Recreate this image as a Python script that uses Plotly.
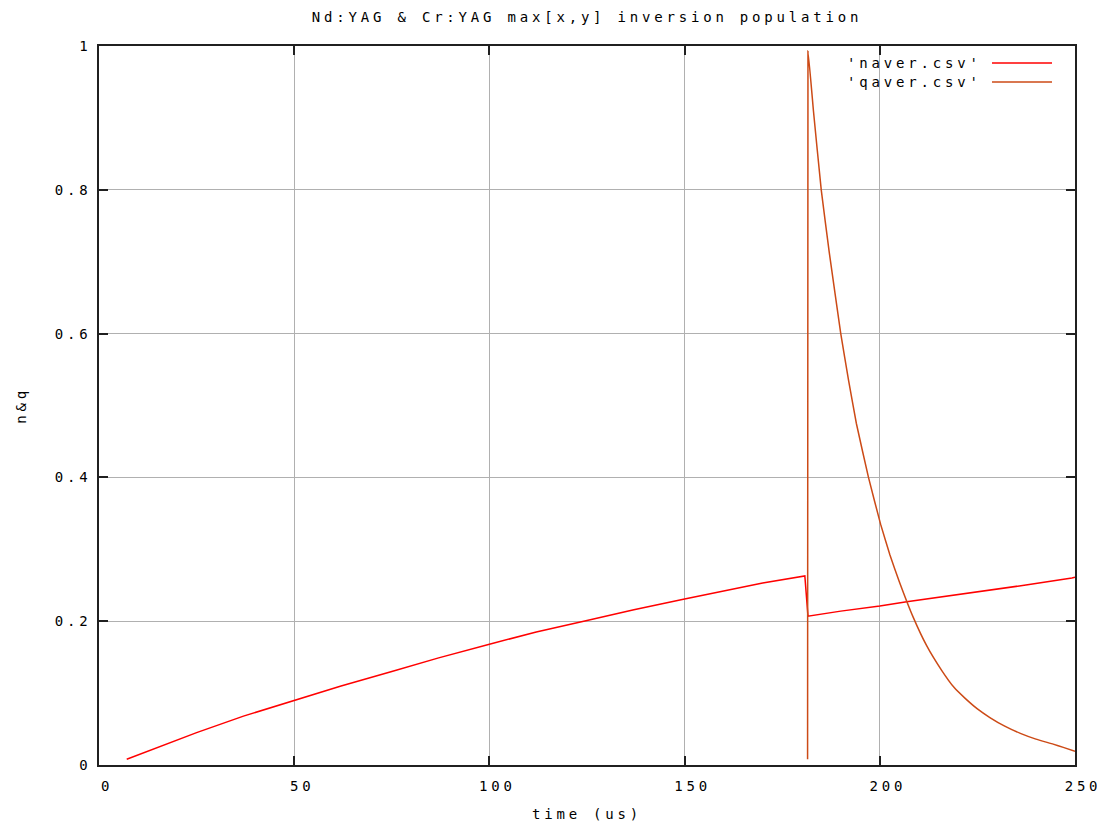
import plotly.graph_objects as go

# naver.csv (red)
naver_t = [7.1, 15, 25, 37, 50, 62, 75, 87, 100, 112, 125, 137, 150, 162, 170, 180.8,
           181.6, 190, 200, 206.9, 215, 225, 237, 249.2, 250]
naver_v = [0.008, 0.024, 0.045, 0.068, 0.090, 0.110, 0.130, 0.149, 0.168, 0.185, 0.201,
           0.216, 0.231, 0.244, 0.253, 0.263,
           0.207, 0.214, 0.221, 0.227, 0.233, 0.241, 0.250, 0.260, 0.261]

# qaver.csv (orange)
qaver_t = [181.5, 181.6, 183, 185, 187, 190, 192, 194, 197.1, 200.2, 202.6, 205, 208.6,
           212, 215.8, 219, 221.8, 225, 228.2, 232, 236, 240, 244.4, 247, 250]
qaver_v = [0.008, 0.993, 0.91, 0.80, 0.715, 0.60, 0.535, 0.475, 0.40, 0.335, 0.292, 0.255,
           0.205, 0.166, 0.132, 0.108, 0.093, 0.078, 0.066, 0.054, 0.044, 0.036, 0.029,
           0.0245, 0.019]

x_ticks = [0, 50, 100, 150, 200, 250]
y_ticks = [0, 0.2, 0.4, 0.6, 0.8, 1]
y_tick_text = ["0", "0.2", "0.4", "0.6", "0.8", "1"]

RED = "#ff0000"
ORANGE = "#cc4a16"
FONT = "DejaVu Sans Mono"
FS = 14
LS = 3.8  # letter spacing (px) to mimic gnuplot's wide pixel font

fig = go.Figure()
fig.add_trace(go.Scatter(x=naver_t, y=naver_v, mode="lines", name="'naver.csv'",
                         line=dict(color=RED, width=1.5)))
fig.add_trace(go.Scatter(x=qaver_t, y=qaver_v, mode="lines", name="'qaver.csv'",
                         line=dict(color=ORANGE, width=1.5, shape="spline", smoothing=0.3)))

axis_common = dict(
    showline=True, linecolor="#202020", linewidth=1.6, mirror="ticks",
    ticks="inside", ticklen=9, tickcolor="#202020", tickwidth=1.6,
    showgrid=True, gridcolor="#b0b0b0", gridwidth=1.2, zeroline=False,
    tickfont=dict(family=FONT, size=FS, color="#000000"),
)

fig.update_layout(
    width=1105, height=825,
    margin=dict(l=91, r=38, t=38, b=68),
    paper_bgcolor="white", plot_bgcolor="white",
    showlegend=False,
    title=dict(text="Nd:YAG & Cr:YAG max[x,y] inversion population",
               x=579 / 1105, xanchor="center", y=1 - 9 / 825, yanchor="middle",
               font=dict(family=FONT, size=FS, color="#000000")),
    xaxis=dict(range=[0, 250], tickvals=x_ticks, ticklabelstandoff=7, ticklabelshift=8,
               title=dict(text="time (us)", standoff=17,
                          font=dict(family=FONT, size=FS, color="#000000")),
               **axis_common),
    yaxis=dict(range=[0, 1], tickvals=y_ticks, ticktext=y_tick_text, ticklabelstandoff=3,
               title=dict(text="n&q", standoff=36,
                          font=dict(family=FONT, size=FS, color="#000000")),
               **axis_common),
)

# custom gnuplot-style legend: text then line sample
legend_items = [("'naver.csv'", RED, 63), ("'qaver.csv'", ORANGE, 82)]
for label, color, ypix in legend_items:
    fig.add_annotation(text=label, xref="paper", yref="paper",
                       x=(914 - 99) / 976, y=(765 - ypix) / 719, xanchor="center", yanchor="middle",
                       showarrow=False, font=dict(family=FONT, size=FS, color="#000000"))
    fig.add_shape(type="line", xref="paper", yref="paper",
                  x0=(992 - 99) / 976, x1=(1052 - 99) / 976,
                  y0=(765 - ypix) / 719, y1=(765 - ypix) / 719,
                  line=dict(color=color, width=1.5))

post = ("var s=document.createElement('style');"
        "s.innerHTML='.main-svg text{letter-spacing:%spx !important;}';"
        "document.head.appendChild(s);" % LS)

fig.write_html("out.html", post_script=post)
